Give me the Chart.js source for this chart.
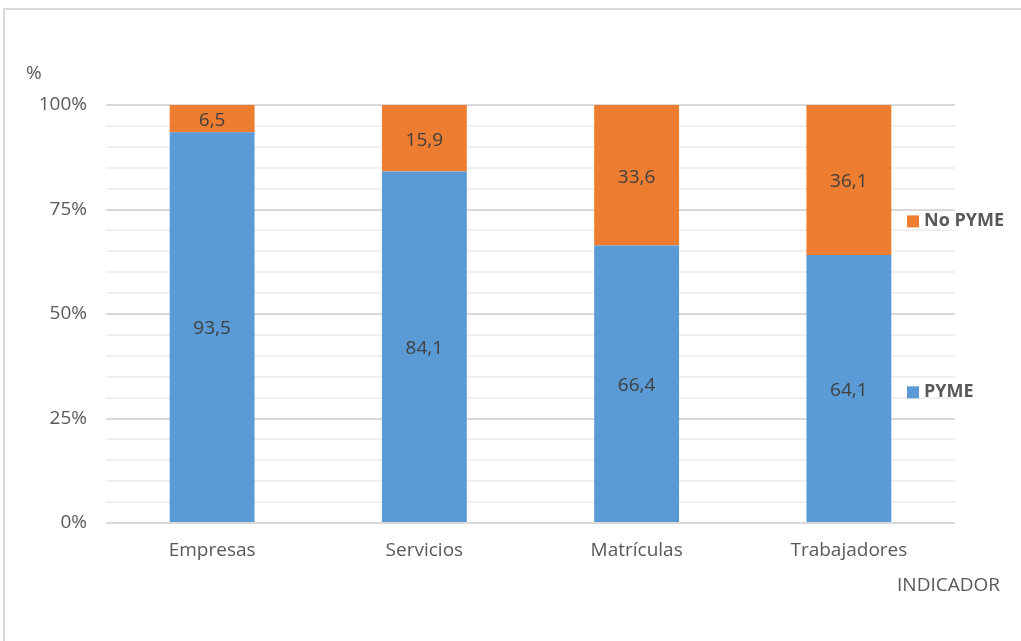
<!DOCTYPE html>
<html>
<head>
<meta charset="utf-8">
<script src="https://cdn.jsdelivr.net/npm/chart.js@4/dist/chart.umd.min.js"></script>
<style>
  html, body { margin: 0; padding: 0; background: #fff; }
  #wrap { position: relative; width: 1021px; height: 641px; overflow: hidden; }
  #frame { position: absolute; left: 3px; top: 8px; width: 1100px; height: 700px;
           border-left: 2px solid #d9d9d9; border-top: 2px solid #d9d9d9; box-sizing: border-box; }
  canvas { position: absolute; left: 0; top: 0; }
</style>
</head>
<body>
<div id="wrap">
  <div id="frame"></div>
  <canvas id="c" width="1021" height="641"></canvas>
</div>
<script>
const categories = ['Empresas', 'Servicios', 'Matrículas', 'Trabajadores'];
const pymeValues = [93.5, 84.1, 66.4, 64.1];
const noPymeValues = [6.5, 15.9, 33.6, 36.1];
const yTickLabels = [0, 25, 50, 75, 100];

const FONT = "'Open Sans', 'DejaVu Sans', sans-serif";
const TEXT = '#595959';

const fmt = v => v.toFixed(1).replace('.', ',');

// value labels centred in each stacked segment
const valueLabels = {
  id: 'valueLabels',
  afterDatasetsDraw(chart) {
    const ctx = chart.ctx;
    ctx.save();
    ctx.font = "19px " + FONT;
    ctx.fillStyle = '#404040';
    ctx.textAlign = 'center';
    ctx.textBaseline = 'middle';
    chart.data.datasets.forEach((ds, i) => {
      chart.getDatasetMeta(i).data.forEach((bar, j) => {
        const y = (bar.y + bar.base) / 2 + 2;
        ctx.fillText(fmt(ds.data[j]), bar.x, y);
      });
    });
    ctx.restore();
  }
};

// axis captions and the side legend
const extras = {
  id: 'extras',
  afterDraw(chart) {
    const ctx = chart.ctx;
    const y = chart.scales.y;
    ctx.save();
    ctx.fillStyle = TEXT;
    ctx.font = "19px " + FONT;
    ctx.textBaseline = 'middle';
    ctx.textAlign = 'left';
    ctx.fillText('%', 26, 74);
    ctx.textAlign = 'right';
    ctx.fillText('INDICADOR', 1000, 586);

    // legend entries placed beside the last bar's segments
    const items = [
      { ds: 1, v: 72.4 },
      { ds: 0, v: 31.5 }
    ];
    ctx.font = "bold 18px " + FONT;
    ctx.textAlign = 'left';
    items.forEach(it => {
      const ds = chart.data.datasets[it.ds];
      const py = y.getPixelForValue(it.v);
      ctx.fillStyle = ds.backgroundColor;
      ctx.fillRect(907, py - 5, 12, 12);
      ctx.fillStyle = TEXT;
      ctx.fillText(ds.label, 924, py + 1);
    });
    ctx.restore();
  }
};

new Chart(document.getElementById('c'), {
  type: 'bar',
  data: {
    labels: categories,
    datasets: [
      { label: 'PYME', data: pymeValues, backgroundColor: '#5B9BD5',
        barPercentage: 0.4, categoryPercentage: 1.0 },
      { label: 'No PYME', data: noPymeValues, backgroundColor: '#ED7D31',
        barPercentage: 0.4, categoryPercentage: 1.0 }
    ]
  },
  options: {
    responsive: false,
    animation: false,
    devicePixelRatio: 1,
    layout: { padding: { left: 0, right: 66, top: 105, bottom: 0 } },
    plugins: { legend: { display: false }, tooltip: { enabled: false } },
    scales: {
      x: {
        stacked: true,
        grid: { display: false, drawTicks: false },
        border: { display: false },
        ticks: { color: TEXT, font: { family: FONT, size: 19 }, padding: 16 },
        afterFit(s) { s.height = 118; }
      },
      y: {
        stacked: true,
        min: 0, max: 100,
        afterBuildTicks(s) {
          const t = [];
          for (let v = 0; v <= 100; v += 5) t.push({ value: v });
          s.ticks = t;
        },
        grid: {
          drawTicks: false,
          color: c => (yTickLabels.includes(c.tick.value) ? '#d9d9d9' : '#f0f0f0'),
          lineWidth: 2
        },
        border: { display: false },
        ticks: {
          color: TEXT,
          font: { family: FONT, size: 19 },
          padding: 19,
          autoSkip: false,
          callback: v => (yTickLabels.includes(v) ? v + '%' : '')
        },
        afterFit(s) { s.width = 106; }
      }
    }
  },
  plugins: [valueLabels, extras]
});
</script>
</body>
</html>
